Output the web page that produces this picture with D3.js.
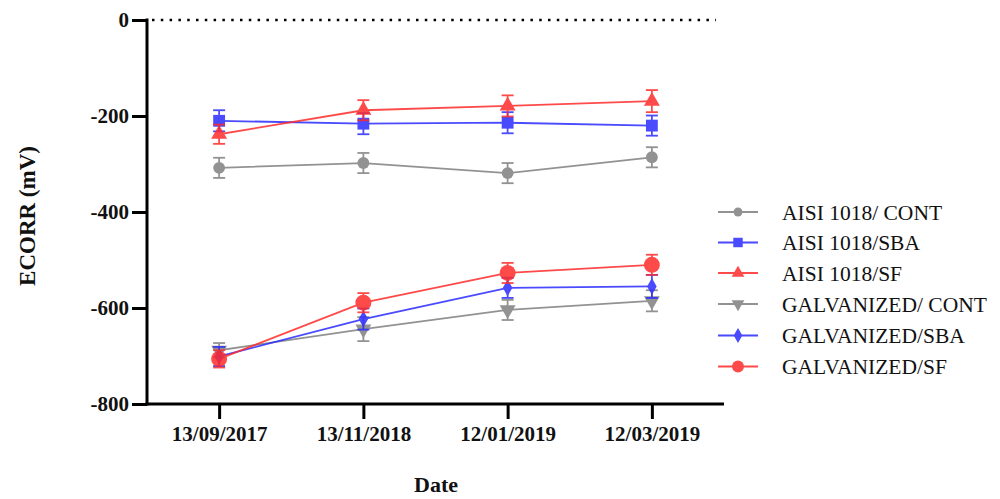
<!DOCTYPE html>
<html><head><meta charset="utf-8">
<script src="https://cdn.jsdelivr.net/npm/d3@7"></script>
<style>body{margin:0;background:#fff}svg{display:block}</style>
</head><body>
<svg id="c" width="1000" height="499"></svg>
<script>
const dates = ["13/09/2017","13/11/2018","12/01/2019","12/03/2019"];
const yTicks = [0,-200,-400,-600,-800];
const seriesNames = ["AISI 1018/ CONT","AISI 1018/SBA","AISI 1018/SF","GALVANIZED/ CONT","GALVANIZED/SBA","GALVANIZED/SF"];
const aisiCont = [-308,-298,-319,-286];
const aisiContErr = [21,21,21,21];
const aisiSba = [-210,-216,-214,-220];
const aisiSbaErr = [22,22,22,21];
const aisiSf = [-238,-188,-179,-169];
const aisiSfErr = [20,21,22,23];
const galvCont = [-688,-644,-604,-585];
const galvContErr = [15,25,21,22];
const galvSba = [-701,-623,-558,-555];
const galvSbaErr = [20,22,21,24];
const galvSf = [-706,-589,-527,-510];
const galvSfErr = [18,20,21,21];

const colors = ["#808080","#2b2bff","#ff2b2b","#808080","#2b2bff","#ff2b2b"];
const symbols = [d3.symbolCircle,d3.symbolSquare,d3.symbolTriangle,"tdown",d3.symbolDiamond,"bigcircle"];
const sizes = [110,140,110,110,80,200];
const series = [
 {v:aisiCont,e:aisiContErr},{v:aisiSba,e:aisiSbaErr},{v:aisiSf,e:aisiSfErr},
 {v:galvCont,e:galvContErr},{v:galvSba,e:galvSbaErr},{v:galvSf,e:galvSfErr}];

const svg = d3.select("#c");
const x = d3.scalePoint().domain(dates).range([147,724]).padding(0.5);
const y = d3.scaleLinear().domain([-800,0]).range([404,20]);
const serif = "'Liberation Serif', 'DejaVu Serif', serif";

function markerPath(i){
  const s = symbols[i];
  if (s==="tdown") return d3.symbol(d3.symbolTriangle, sizes[i])();
  if (s==="bigcircle") return d3.symbol(d3.symbolCircle, sizes[i])();
  return d3.symbol(s, sizes[i])();
}

// dotted zero line
svg.append("line").attr("x1",152).attr("x2",716).attr("y1",y(0)).attr("y2",y(0))
  .attr("stroke","#000").attr("stroke-width",2.5).attr("stroke-dasharray","2.5,6.3");

// series
series.forEach((s,i)=>{
  const g = svg.append("g").attr("opacity",0.85);
  const line = d3.line().x((d,j)=>x(dates[j])).y(d=>y(d));
  g.append("path").attr("d",line(s.v)).attr("fill","none").attr("stroke",colors[i]).attr("stroke-width",1.8);
  s.v.forEach((v,j)=>{
    const cx = x(dates[j]);
    const top = y(v+s.e[j]), bot = y(v-s.e[j]);
    g.append("line").attr("x1",cx).attr("x2",cx).attr("y1",top).attr("y2",bot).attr("stroke",colors[i]).attr("stroke-width",1.8);
    [top,bot].forEach(yy=>g.append("line").attr("x1",cx-6).attr("x2",cx+6).attr("y1",yy).attr("y2",yy).attr("stroke",colors[i]).attr("stroke-width",1.8));
    g.append("path").attr("d",markerPath(i)).attr("fill",colors[i])
      .attr("transform",`translate(${cx},${y(v)})` + (symbols[i]==="tdown"?" rotate(180)":""));
  });
});

// axes
const yAxis = d3.axisLeft(y).tickValues(yTicks).tickSize(15).tickPadding(3).tickFormat(d=>String(d));
const ya = svg.append("g").attr("transform","translate(147,0)").call(yAxis);
const xAxis = d3.axisBottom(x).tickSize(15).tickPadding(7);
const xa = svg.append("g").attr("transform","translate(0,404)").call(xAxis);
[ya,xa].forEach(a=>{
  a.select(".domain").attr("stroke","#000").attr("stroke-width",3);
  a.selectAll(".tick line").attr("stroke","#000").attr("stroke-width",3);
  a.selectAll("text").attr("fill","#111").attr("font-family",serif).attr("font-weight","bold").attr("font-size",21);
});
ya.select(".domain").attr("d","M0,18.5V405.5");
xa.select(".domain").attr("d","M145.5,0H724");

svg.append("text").attr("transform","translate(35,216) rotate(-90)").attr("text-anchor","middle")
  .attr("font-family",serif).attr("font-weight","bold").attr("font-size",23).attr("fill","#111").text("ECORR (mV)");
svg.append("text").attr("x",436).attr("y",492).attr("text-anchor","middle")
  .attr("font-family",serif).attr("font-weight","bold").attr("font-size",22).attr("fill","#111").text("Date");

// legend
const legY = [212,242.5,273,304,335.5,366.5];
seriesNames.forEach((n,i)=>{
  const g = svg.append("g").attr("opacity",0.85);
  g.append("line").attr("x1",718).attr("x2",758).attr("y1",legY[i]).attr("y2",legY[i]).attr("stroke",colors[i]).attr("stroke-width",1.8);
  const sc = [0.75,0.8,0.8,0.8,0.9,0.75][i];
  g.append("path").attr("d",markerPath(i)).attr("fill",colors[i])
    .attr("transform",`translate(738,${legY[i]}) scale(${sc})`+(symbols[i]==="tdown"?" rotate(180)":""));
  svg.append("text").attr("x",782).attr("y",legY[i]).attr("dy","0.35em").attr("font-family",serif)
    .attr("font-size",21.5).attr("fill","#111").text(n);
});
</script>
</body></html>
